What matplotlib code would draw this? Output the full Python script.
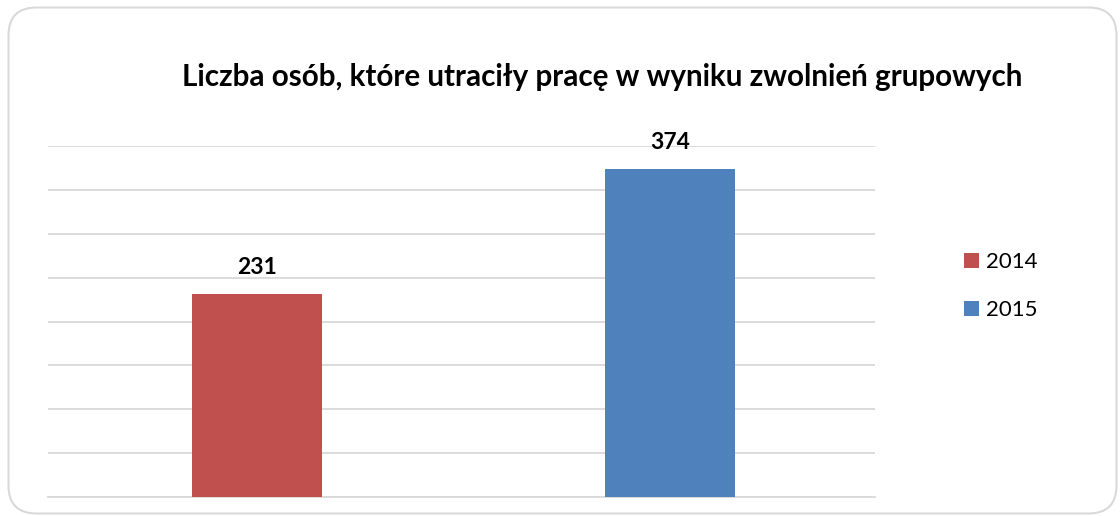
import matplotlib.pyplot as plt
from matplotlib.patches import FancyBboxPatch, Rectangle

# data
years = ['2014', '2015']
values = [231, 374]
colors = ['#C0504D', '#4F81BD']
title = 'Liczba osób, które utraciły pracę w wyniku zwolnień grupowych'

plt.rcParams['font.family'] = ['Lato', 'DejaVu Sans']

W, H = 1120, 516
fig = plt.figure(figsize=(W / 100, H / 100), dpi=100)

# rounded chart border (inches, so corners stay round)
border = FancyBboxPatch((0.085, 0.025), 11.08, 5.06,
                        boxstyle='round,pad=0,rounding_size=0.28',
                        transform=fig.dpi_scale_trans,
                        facecolor='none', edgecolor='#d9d9d9', linewidth=1.5)
fig.patches.append(border)

ax = fig.add_axes([48 / W, 19 / H, 827 / W, 351 / H])
ax.set_facecolor('none')

for i, (yr, v, c) in enumerate(zip(years, values, colors)):
    ax.bar(i, v, width=0.314, color=c, label=yr, zorder=3)
    ax.annotate(str(v), (i, v), xytext=(0, 14.5), textcoords='offset points',
                ha='center', va='baseline', fontsize=16.5, fontweight='bold',
                color='black')

ax.set_xlim(-0.505, 1.495)
ax.set_ylim(0, 400)
ax.set_yticks(range(0, 401, 50))
ax.yaxis.grid(True, color='#d9d9d9', linewidth=1.3)
ax.set_axisbelow(True)
ax.tick_params(left=False, bottom=False, labelleft=False, labelbottom=False)
for s in ['top', 'right', 'left']:
    ax.spines[s].set_visible(False)
ax.spines['bottom'].set_color('#d9d9d9')
ax.spines['bottom'].set_linewidth(1.3)

fig.text(602 / W, 1 - 86 / H, title, ha='center', va='baseline',
         fontsize=21.3, fontweight='bold', color='black')

# legend on the right, Excel style
for i, (yr, c) in enumerate(zip(years, colors)):
    y_top = 253 + 48 * i
    fig.patches.append(Rectangle((964 / W, 1 - (y_top + 15) / H), 15 / W, 15 / H,
                                 transform=fig.transFigure, facecolor=c,
                                 edgecolor='none'))
    fig.text(986 / W, 1 - (y_top + 15) / H, yr, ha='left', va='baseline',
             fontsize=16, color='black')

fig.savefig('out.png', dpi=100)
